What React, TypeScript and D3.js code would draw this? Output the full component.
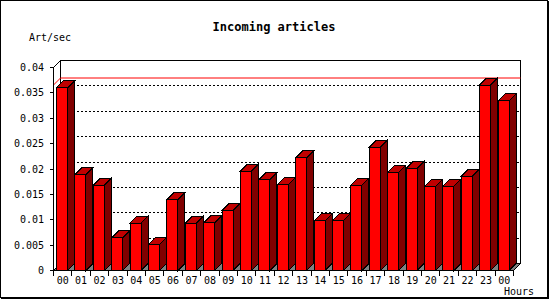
import React from "react";
import * as d3 from "d3";

const hours = ["00","01","02","03","04","05","06","07","08","09","10","11","12","13","14","15","16","17","18","19","20","21","22","23","00"];
const artPerSec = [0.0360, 0.0189, 0.0168, 0.00646, 0.00935, 0.00507, 0.01396, 0.00935, 0.0094, 0.0118, 0.0196, 0.0179, 0.0169, 0.0222, 0.0098, 0.0098, 0.0168, 0.0243, 0.0193, 0.0201, 0.0166, 0.0166, 0.0186, 0.03655, 0.0334];
const yTicks = [0, 0.005, 0.01, 0.015, 0.02, 0.025, 0.03, 0.035, 0.04];
const yTickLabels = ["0", "0.005", "0.01", "0.015", "0.02", "0.025", "0.03", "0.035", "0.04"];
const gridTicks = [0.005, 0.01, 0.015, 0.02, 0.025, 0.03, 0.035];

const W = 550, H = 300;
const DX = 7, DY = 7;
const FONT = "'DejaVu Sans Mono', 'Liberation Mono', monospace";

export default function App() {
  const x0 = 53.5, x1 = 513.5;
  const yBase = 270.5, yTop = 67.5;
  const y = d3.scaleLinear().domain([0, 0.04]).range([yBase, yTop]);
  const x = d3.scaleBand<number>().domain(d3.range(hours.length)).range([x0, x1]).padding(0);
  const bw = x.bandwidth();
  const barOff = 3;
  const barW = 11;
  const maxV = d3.max(artPerSec) as number;

  const pts = (a: [number, number][]) => a.map(p => p.join(",")).join(" ");

  return (
    <svg width={W} height={H} style={{ position: "absolute", left: 0, top: 0, background: "#fff" }} shapeRendering="crispEdges">
      <rect x={0} y={0} width={W} height={H} fill="#fff" />
      {/* outer frame */}
      <rect x={0.5} y={0.5} width={547} height={297} fill="none" stroke="#000" strokeWidth={1} />
      <line x1={548} y1={1} x2={548} y2={299} stroke="#000" strokeWidth={2} />
      <line x1={1} y1={298.5} x2={549} y2={298.5} stroke="#000" strokeWidth={1} />

      {/* title */}
      <text x={274} y={31} textAnchor="middle" fontFamily={FONT} fontSize={12} fontWeight="bold" fill="#000">Incoming articles</text>
      <text x={29} y={41} fontFamily={FONT} fontSize={10} fill="#000">Art/sec</text>
      <text x={504} y={295} fontFamily={FONT} fontSize={10} fill="#000">Hours</text>

      {/* back plane */}
      <rect x={x0 + DX} y={yTop - DY} width={x1 - x0} height={yBase - yTop} fill="#fff" stroke="#000" />
      {/* grid lines on back plane */}
      {gridTicks.map((t, i) => (
        <line key={i} x1={x0 + DX} x2={x1 + DX} y1={y(t) - DY} y2={y(t) - DY} stroke="#000" strokeDasharray="2,2" />
      ))}
      {/* max line */}
      <polyline points={pts([[x0, y(maxV)], [x0 + DX, y(maxV) - DY], [x1 + DX, y(maxV) - DY]])} fill="none" stroke="#ff0000" shapeRendering="auto" />
      {/* left wall top edge */}
      <line x1={x0} y1={yTop} x2={x0 + DX} y2={yTop - DY} stroke="#000" shapeRendering="auto" />
      {/* floor */}
      <polygon points={pts([[x0, yBase], [x0 + DX, yBase - DY], [x1 + DX, yBase - DY], [x1, yBase]])} fill="#808080" stroke="#000" />

      {/* bars */}
      {artPerSec.map((v, i) => {
        const bx = (x(i) as number) + barOff;
        const yt = y(v);
        return (
          <g key={i} stroke="#000" strokeWidth={1}>
            <polygon points={pts([[bx + barW, yt], [bx + barW + DX, yt - DY], [bx + barW + DX, yBase - DY], [bx + barW, yBase]])} fill="#800000" />
            <polygon points={pts([[bx, yt], [bx + DX, yt - DY], [bx + barW + DX, yt - DY], [bx + barW, yt]])} fill="#c00000" />
            <rect x={bx} y={yt} width={barW} height={yBase - yt} fill="#ff0000" />
          </g>
        );
      })}

      {/* front axes */}
      <line x1={x0} y1={yTop} x2={x0} y2={yBase} stroke="#000" />
      <line x1={x0} y1={yBase} x2={x1} y2={yBase} stroke="#000" />
      {yTicks.map((t, i) => (
        <g key={i}>
          <line x1={x0 - 4} x2={x0} y1={y(t)} y2={y(t)} stroke="#000" />
          <text x={44} y={y(t) + 3.5} textAnchor="end" fontFamily={FONT} fontSize={10} fill="#000">{yTickLabels[i]}</text>
        </g>
      ))}
      {d3.range(hours.length + 1).map(i => {
        const tx = x0 + i * bw;
        return <line key={i} x1={tx} x2={tx} y1={yBase} y2={yBase + 5} stroke="#000" />;
      })}
      {hours.map((h, i) => (
        <text key={i} x={(x(i) as number) + bw / 2} y={284} textAnchor="middle" fontFamily={FONT} fontSize={10} fill="#000">{h}</text>
      ))}
    </svg>
  );
}
